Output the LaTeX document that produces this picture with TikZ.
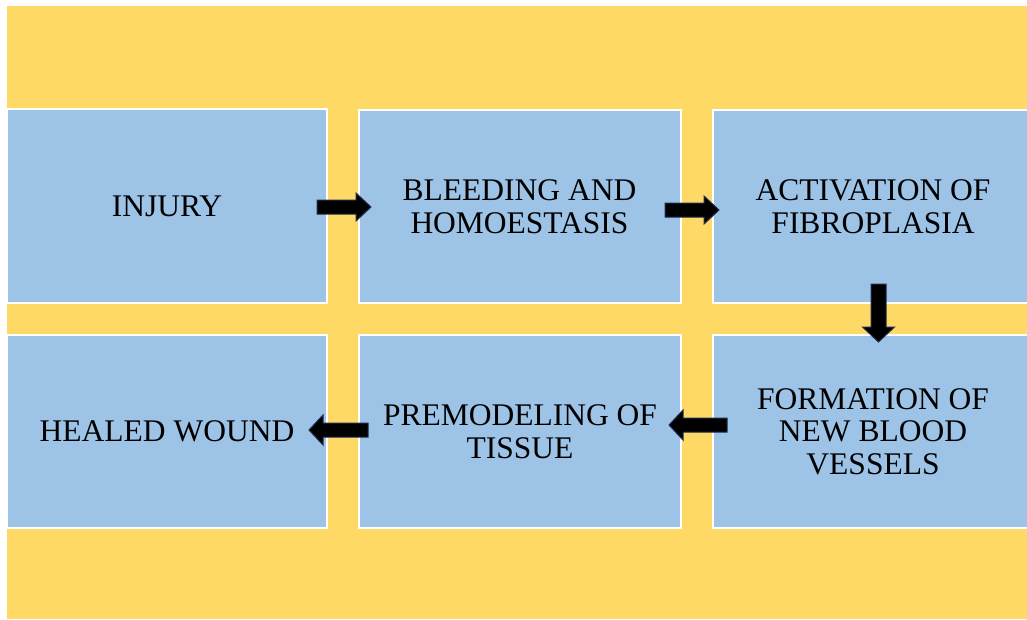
\documentclass[tikz,border=0pt]{standalone}
\usepackage{fontspec}
\setmainfont{Liberation Serif}
\definecolor{bgyellow}{RGB}{255,217,102}
\definecolor{boxblue}{RGB}{157,195,230}
\definecolor{arrowedge}{RGB}{31,45,80}
\begin{document}
\begin{tikzpicture}[x=1pt,y=-1pt,
  stagebox/.style={draw=white, line width=2pt, fill=boxblue, align=center,
    font=\fontsize{31.5}{32.5}\selectfont, inner sep=0pt},
  blockarrow/.style={fill=black, draw=arrowedge, line width=1pt, line join=miter}]
\useasboundingbox (0,0) rectangle (1027,619);
\fill[bgyellow] (7,6) rectangle (1027,619);
\begin{scope}
\clip (0,0) rectangle (1027,619);
\node[stagebox, minimum width=320pt, minimum height=194pt] (b1) at (167,206) {INJURY};
\node[stagebox, minimum width=322pt, minimum height=193pt] (b2) at (519.5,206.5) {BLEEDING AND\\HOMOESTASIS};
\node[stagebox, minimum width=320pt, minimum height=193pt] (b3) at (873,206.5) {ACTIVATION OF\\FIBROPLASIA};
\node[stagebox, minimum width=320pt, minimum height=193pt] (b4) at (873,431.5) {FORMATION OF\\NEW BLOOD\\VESSELS};
\node[stagebox, minimum width=322pt, minimum height=193pt] (b5) at (520,431.5) {PREMODELING OF\\TISSUE};
\node[stagebox, minimum width=320pt, minimum height=193pt] (b6) at (167,431.5) {HEALED WOUND};
\end{scope}
% block arrows
\draw[blockarrow] (317,200) -- (356,200) -- (356,193) -- (371,207) -- (356,221) -- (356,214) -- (317,214) -- cycle;
\draw[blockarrow] (665,203) -- (704,203) -- (704,196) -- (719,210) -- (704,224) -- (704,217) -- (665,217) -- cycle;
\draw[blockarrow] (871,284) -- (886,284) -- (886,327) -- (894.5,327) -- (878.5,342) -- (862.5,327) -- (871,327) -- cycle;
\draw[blockarrow] (727,418) -- (683,418) -- (683,410) -- (669,425) -- (683,440) -- (683,432) -- (727,432) -- cycle;
\draw[blockarrow] (368,423) -- (323,423) -- (323,415) -- (309,430) -- (323,445) -- (323,437) -- (368,437) -- cycle;
\end{tikzpicture}
\end{document}
